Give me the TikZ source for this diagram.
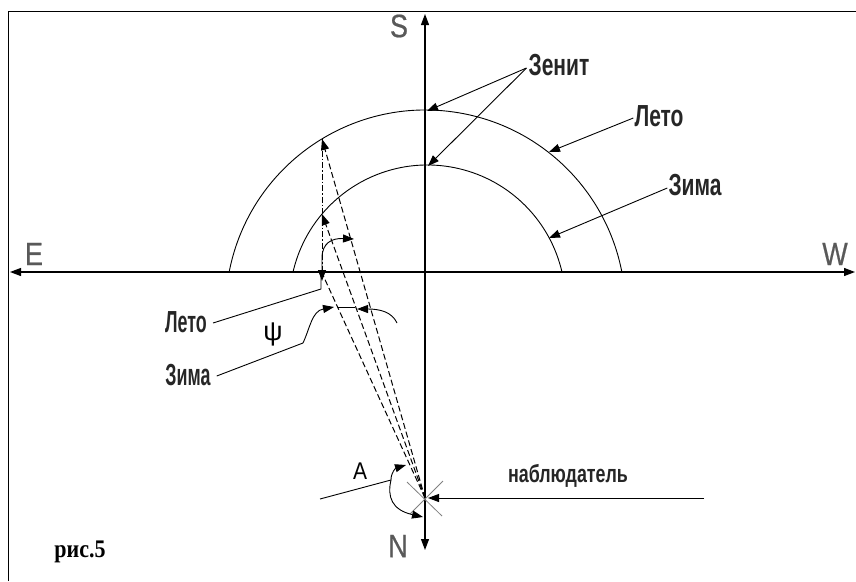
\documentclass[tikz,border=0pt]{standalone}
\usepackage{fontspec}
\usepackage{graphicx}
\setmainfont{Liberation Serif}
\newfontfamily\labfont{Liberation Sans}
\newfontfamily\dirfont[FakeBold=0.6]{Liberation Sans}
\usetikzlibrary{arrows.meta,calc}
\newcommand\sqtext[4]{{\fontsize{#1}{#1}\selectfont\scalebox{#2}[#3]{#4}}}
\begin{document}
\begin{tikzpicture}[x=1pt,y=-1pt,
  thinline/.style={line width=0.9pt},
  axisline/.style={line width=1.2pt},
  tipA/.style={-{Triangle[length=11pt,width=8pt]}},
  tipB/.style={{Triangle[length=11pt,width=8pt]}-{Triangle[length=11pt,width=8pt]}},
  dsh/.style={line width=1pt,dash pattern=on 6pt off 3pt},
  dshdot/.style={line width=0.9pt,dash pattern=on 6pt off 2pt on 1.5pt off 2pt},
  dirlbl/.style={inner sep=0pt,font=\dirfont,text=black!65},
  cyrlbl/.style={inner sep=0pt,font=\labfont\bfseries,text=black!85},
  smlbl/.style={inner sep=0pt,font=\labfont}]
\useasboundingbox (0,0) rectangle (856,581);
% frame
\draw[line width=1pt] (8,581) -- (8,11) -- (856,11);
% axes
\coordinate (Eend) at (10,272);
\coordinate (Wend) at (855,272);
\coordinate (Send) at (425,14);
\coordinate (Nend) at (425,550);
\draw[axisline,tipB] (Eend) -- (Wend);
\draw[axisline,tipB] (Send) -- (Nend);
% arcs
\coordinate (Co) at (425.5,310);
\coordinate (Ci) at (427.5,303);
\draw[thinline] ($(Co)+(-169.05:200)$) arc[start angle=-169.05,end angle=-10.95,radius=200];
\draw[thinline] ($(Ci)+(-167.02:138)$) arc[start angle=-167.02,end angle=-12.98,radius=138];
% labels
\node[dirlbl] (S) at (399,26) {\sqtext{27}{1}{1.2}{S}};
\node[dirlbl] (E) at (34,254) {\sqtext{27}{1}{1.2}{E}};
\node[dirlbl] (W) at (835,254) {\sqtext{27}{1}{1.2}{W}};
\node[dirlbl] (N) at (398,546) {\sqtext{27}{1}{1.2}{N}};
\node[cyrlbl] (zen) at (559,65) {\sqtext{21}{1.0}{1.45}{Зенит}};
\node[cyrlbl] (letoR) at (659,116) {\sqtext{21}{1.0}{1.45}{Лето}};
\node[cyrlbl] (zimaR) at (695,185) {\sqtext{21}{1.0}{1.45}{Зима}};
\node[cyrlbl] (letoL) at (186,322) {\sqtext{21}{0.85}{1.45}{Лето}};
\node[cyrlbl] (zimaL) at (188,375) {\sqtext{21}{0.85}{1.45}{Зима}};
\node[cyrlbl] (obs) at (568,476) {\sqtext{19}{0.94}{1.3}{наблюдатель}};
\node[smlbl] (Alab) at (360,471) {\sqtext{21}{1}{1.15}{A}};
\node[smlbl] (psi) at (273,334) {\sqtext{27}{1}{1}{ψ}};
\node[inner sep=0pt,font=\bfseries] (fig) at (80,552) {\sqtext{22}{1}{1.15}{рис.5}};
% key points
\coordinate (O) at (425,498);
\coordinate (P1) at (322,139);
\coordinate (P2) at (322,214);
\coordinate (Q) at (322,273);
\coordinate (Zo) at (427,111);
\coordinate (Zi) at (428,166);
\coordinate (Lo) at (549,152);
\coordinate (Li) at (549,238);
% zenith / right leaders
\draw[thinline,tipA] ($(zen.west)+(-2,3)$) -- (Zo);
\draw[thinline,tipA] ($(zen.west)+(-2,3)$) -- (Zi);
\draw[thinline,tipA] ($(letoR.west)+(-1,2)$) -- (Lo);
\draw[thinline,tipA] ($(zimaR.west)+(-1,3)$) -- (Li);
% projection and sun rays
\draw[dshdot] (P1) -- (Q);
\draw[dsh] (O) -- (Q);
\draw[dsh,tipA] (O) -- (P2);
\draw[dsh,tipA] (O) -- (P1);
% summer angle
\coordinate (ls1) at (321,289);
\draw[thinline] ($(letoL.east)+(6,1)$) -- (ls1) -- (321,273);
\draw[thinline,tipB] (322,281) -- (322,258) .. controls (322,243) and (332,238) .. (354,239);
% winter angle
\coordinate (ws1) at (303,343);
\draw[thinline,tipA] ($(zimaL.east)+(6,1)$) -- (ws1) .. controls (310,328) and (312,311) .. (334,307);
\draw[thinline] (338,307) -- (355,307);
\draw[thinline,tipA] (397,323) .. controls (392,312) and (380,309) .. (357,309);
% observer
\draw[gray,line width=0.8pt] (407,482) -- (442,516);
\draw[gray,line width=0.8pt] (443,481) -- (410,514);
\coordinate (obsStart) at (704,498);
\draw[thinline,tipA] (obsStart) -- (428,498);
% azimuth
\coordinate (az) at (391,480);
\draw[thinline] (320,499) -- (az);
\draw[thinline,tipA] (az) .. controls (391,472) and (396,468) .. (406,465);
\draw[thinline,tipA] (az) .. controls (387,497) and (392,510) .. (423,517);
\end{tikzpicture}
\end{document}
